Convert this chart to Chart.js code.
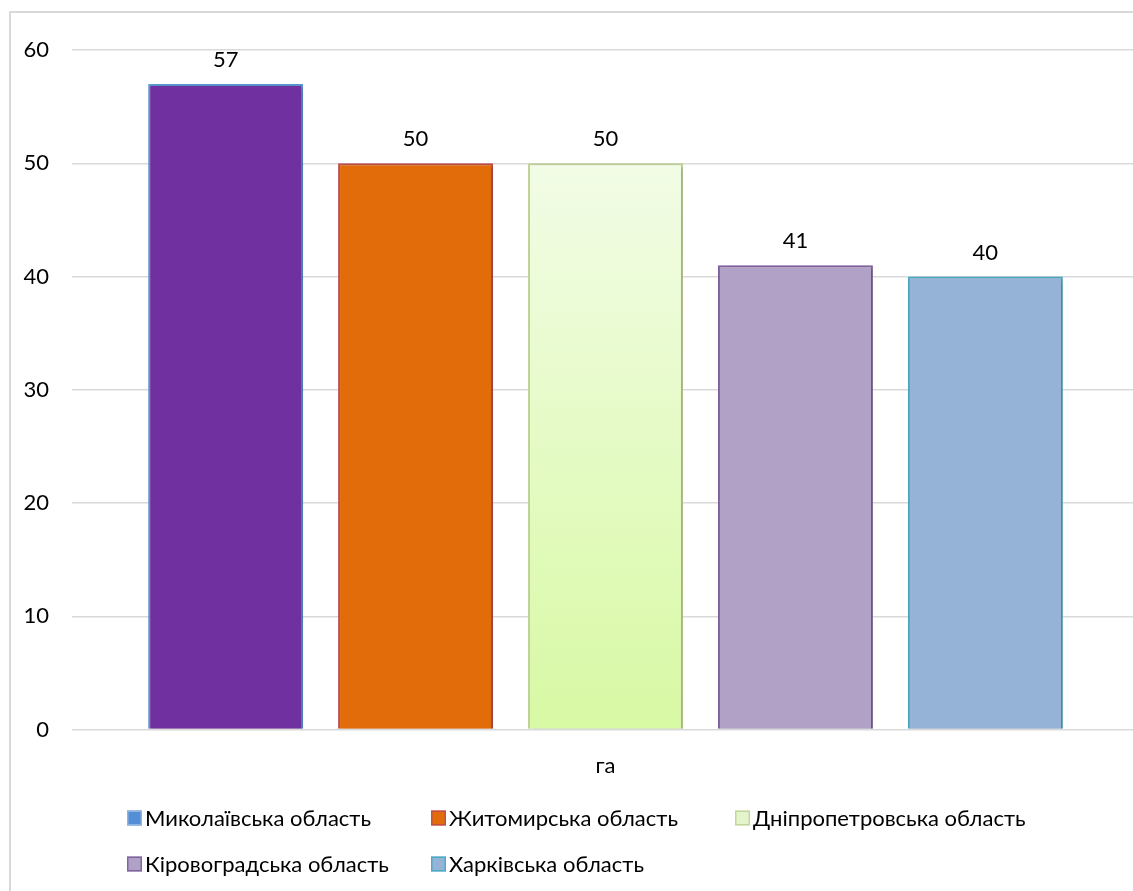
<!DOCTYPE html>
<html>
<head>
<meta charset="utf-8">
<script src="https://cdn.jsdelivr.net/npm/chart.js@4/dist/chart.umd.min.js"></script>
<style>
  html, body { margin: 0; padding: 0; background: #ffffff; overflow: hidden; width: 1133px; height: 891px; }
  #frame { position: absolute; left: 9px; top: 11px; width: 1300px; height: 1000px; border: 2px solid #d9d9d9; box-sizing: border-box; }
  #wrap { position: absolute; left: 0; top: 0; width: 1145px; height: 891px; }
</style>
</head>
<body>
<div id="frame"></div>
<div id="wrap"><canvas id="c"></canvas></div>
<script>
const categories = ['га'];
const seriesNames = ['Миколаївська область', 'Житомирська область', 'Дніпропетровська область', 'Кіровоградська область', 'Харківська область'];
const seriesValues = [[57], [50], [50], [41], [40]];
const yTicks = [0, 10, 20, 30, 40, 50, 60];

const barFills = ['#7030A0', '#E36C0A', null, '#B2A1C7', '#95B3D7'];
const barBorders = ['#5B9BD5', '#C0504D', '#C3D69B', '#8064A2', '#4BACC6'];
const legendFills = ['#558ED5', '#E36C0A', '#E4F5CC', '#B2A1C7', '#95B3D7'];
const legendBorders = ['#8EB4E3', '#C0504D', '#C3D69B', '#8064A2', '#4BACC6'];

const FONT = 'Lato, "Open Sans", sans-serif';
const FS = 22;

function gradientFill(ctx) {
  const chart = ctx.chart;
  const ys = chart.scales.y;
  if (!ys || !chart.chartArea) return '#E4F5CC';
  const top = ys.getPixelForValue(ctx.raw == null ? 50 : ctx.raw);
  const bottom = ys.getPixelForValue(0);
  const g = chart.ctx.createLinearGradient(0, top, 0, bottom);
  g.addColorStop(0, '#F2FCE6');
  g.addColorStop(1, '#D8F9A4');
  return g;
}

const datasets = seriesNames.map((name, i) => ({
  label: name,
  data: seriesValues[i],
  backgroundColor: barFills[i] ? barFills[i] : gradientFill,
  borderColor: barBorders[i],
  borderWidth: 2,
  barPercentage: 0.816,
  categoryPercentage: 0.89
}));

const shadowPlugin = {
  id: 'shadow',
  beforeDatasetDraw(chart) {
    const c = chart.ctx;
    c.save();
    c.shadowColor = 'rgba(0,0,0,0.28)';
    c.shadowBlur = 4;
    c.shadowOffsetX = 1.5;
    c.shadowOffsetY = 1.5;
  },
  afterDatasetDraw(chart) { chart.ctx.restore(); }
};

const labelPlugin = {
  id: 'valueLabels',
  afterDatasetsDraw(chart) {
    const c = chart.ctx;
    c.save();
    c.font = FS + 'px ' + FONT;
    c.fillStyle = '#000000';
    c.textAlign = 'center';
    c.textBaseline = 'middle';
    chart.data.datasets.forEach((ds, i) => {
      const meta = chart.getDatasetMeta(i);
      meta.data.forEach((el, j) => {
        c.fillText(String(ds.data[j]), el.x, el.y - 24);
      });
    });
    c.restore();
  }
};

const gridLegendPlugin = {
  id: 'gridLegend',
  afterDraw(chart) {
    const c = chart.ctx;
    c.save();
    c.font = FS + 'px ' + FONT;
    c.textBaseline = 'middle';
    c.textAlign = 'left';
    const colX = [127, 431, 735];
    const rowY = [818, 864];
    seriesNames.forEach((name, i) => {
      const col = i % 3, row = Math.floor(i / 3);
      const x = colX[col], y = rowY[row];
      c.fillStyle = legendFills[i];
      c.fillRect(x, y - 7.5, 15, 15);
      c.strokeStyle = legendBorders[i];
      c.lineWidth = 1.5;
      c.strokeRect(x + 0.75, y - 6.75, 13.5, 13.5);
      c.fillStyle = '#000000';
      c.fillText(name, x + 18, y + 1);
    });
    c.restore();
  }
};

new Chart(document.getElementById('c'), {
  type: 'bar',
  data: { labels: categories, datasets },
  plugins: [shadowPlugin, labelPlugin, gridLegendPlugin],
  options: {
    responsive: true,
    maintainAspectRatio: false,
    animation: false,
    layout: { padding: { left: 0, right: 6, top: 50, bottom: 97 } },
    plugins: { legend: { display: false }, tooltip: { enabled: false } },
    scales: {
      x: {
        grid: { display: false },
        border: { display: false },
        ticks: { color: '#000000', font: { family: FONT, size: FS }, padding: 15 }
      },
      y: {
        min: 0, max: 60,
        afterFit(scale) { scale.width = 72; },
        afterBuildTicks(scale) { scale.ticks = yTicks.map(v => ({ value: v })); },
        grid: { color: '#d9d9d9', lineWidth: 1.5, drawTicks: false },
        border: { display: false },
        ticks: { color: '#000000', font: { family: FONT, size: FS }, padding: 23 }
      }
    }
  }
});
</script>
</body>
</html>
